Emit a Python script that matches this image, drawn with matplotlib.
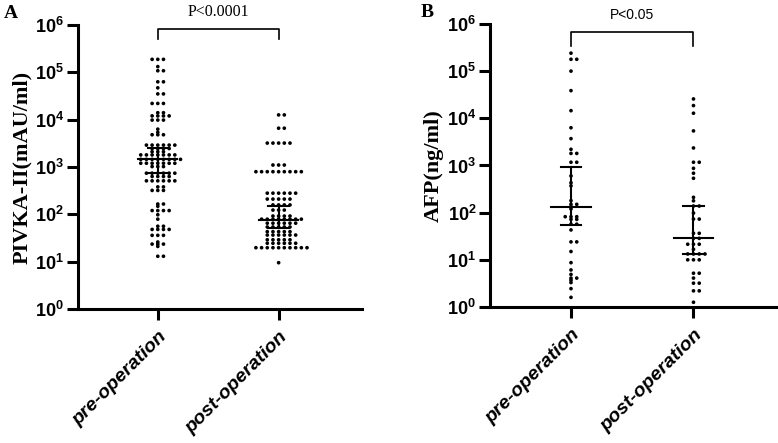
import matplotlib.pyplot as plt

plt.rcParams['mathtext.fontset'] = 'custom'
plt.rcParams['mathtext.rm'] = 'Liberation Sans:bold'
plt.rcParams['mathtext.bf'] = 'Liberation Sans:bold'

groups = ['pre-operation', 'post-operation']
ytick_vals = [1, 10, 100, 1000, 10000, 100000, 1000000]
ytick_labels = [r'$\mathrm{10^{0}}$', r'$\mathrm{10^{1}}$', r'$\mathrm{10^{2}}$', r'$\mathrm{10^{3}}$',
                r'$\mathrm{10^{4}}$', r'$\mathrm{10^{5}}$', r'$\mathrm{10^{6}}$']

# PIVKA-II (mAU/ml), values
pivka_pre = ([188000] * 3 + [132000] + [108000] * 2 + [63000] * 2 + [47000] + [35000] * 2
             + [22000] * 3 + [14000] * 2 + [12000] * 4 + [9800] * 3 + [6300] + [5400]
             + [4800] * 3 + [2900] * 6 + [2450] * 4 + [2100] * 3 + [1800] * 7 + [1450] * 8
             + [1200] * 7 + [1020] * 3 + [740] * 6 + [630] * 4 + [510] * 6 + [380] * 2
             + [320] * 3 + [165] * 2 + [148] + [120] * 4 + [98] + [79] + [56] * 2 + [48] * 4
             + [36] * 3 + [26] + [23.5] * 3 + [21] + [13] * 2)
pivka_post = ([12600] * 2 + [6600] * 2 + [3200] * 5 + [1100] * 3 + [795] * 9 + [280] * 6
              + [210] * 5 + [158] * 4 + [123] * 3 + [92] * 4 + [79] * 8 + [65] * 6 + [54] * 5
              + [43] * 5 + [36.5] * 6 + [29] * 5 + [24.5] * 6 + [19.7] * 10 + [9.5])
pivka_median = [1456, 76]
pivka_q1 = [736, 52]
pivka_q3 = [2484, 150]

# AFP (ng/ml)
afp_pre = ([240000] + [178000] * 2 + [100000] + [38500] + [14500] + [6300] + [3700] + [2200]
           + [1800] * 2 + [1170] * 2 + [600] + [430] + [370] + [180] + [150] * 2 + [133] + [120]
           + [82] * 3 + [72] * 2 + [57] * 2 + [43] + [24] * 2 + [15] + [8.7] + [6.1] + [4.9]
           + [4.1] * 2 + [3.7] + [3.3] + [2.45] + [1.6])
afp_post = ([25700] + [18600] + [12800] + [5400] + [2350] + [1170] * 2 + [870] + [685] + [535]
            + [211] + [178] + [138] * 2 + [98] + [73] * 2 + [36.5] * 2 + [28.5] * 2 + [21.4] * 3
            + [16.7] + [13.3] * 4 + [10] * 3 + [5.2] * 2 + [4.1] + [3.2] * 2 + [2.2] * 2 + [1.26])
afp_median = [134, 28.6]
afp_q1 = [56, 13.3]
afp_q3 = [930, 136]


def swarm_x(center, values, step):
    # same value -> spread sideways: 0, +1, -1, +2, -2 ...
    xs = []
    seen = {}
    for v in values:
        k = seen.get(v, 0)
        seen[v] = k + 1
        off = (k + 1) // 2 * (1 if k % 2 else -1)
        xs.append(center + off * step)
    return xs


def panel(ax, pre, post, med, q1, q3, ylabel, letter, ptext, pfont, brk, brk_drop, ptext_y, lx):
    ax.set_yscale('log')
    ax.set_ylim(1, 1e6)
    ax.set_xlim(-0.66, 1.69)
    for i, vals in enumerate([pre, post]):
        ax.scatter(swarm_x(i, vals, 0.047), vals, s=7, c='black', edgecolors='none',
                   zorder=3, clip_on=False)
        ax.plot([i - 0.16, i + 0.16], [med[i], med[i]], color='black', lw=1.5, zorder=4)
        ax.plot([i, i], [q1[i], q3[i]], color='black', lw=1.5, zorder=4)
        ax.plot([i - 0.085, i + 0.085], [q1[i], q1[i]], color='black', lw=1.5, zorder=4)
        ax.plot([i - 0.085, i + 0.085], [q3[i], q3[i]], color='black', lw=1.5, zorder=4)

    ax.plot([0, 0, 1, 1], [brk_drop, brk, brk, brk_drop], color='black', lw=1.2, clip_on=False)
    ax.text(0.5, ptext_y, ptext, ha='center', va='center', fontsize=pfont[1],
            family=pfont[0])

    ax.set_yticks(ytick_vals)
    ax.set_yticklabels(ytick_labels, fontsize=13)
    ax.minorticks_off()
    ax.set_xticks([0, 1])
    ax.set_xticklabels(groups, rotation=45, ha='right', rotation_mode='anchor',
                       fontsize=14, fontweight='bold', fontstyle='italic', family='Liberation Sans')
    ax.tick_params(axis='y', length=8, width=2.2, pad=2)
    ax.tick_params(axis='x', length=8, width=2.2, pad=6)
    for s in ['top', 'right']:
        ax.spines[s].set_visible(False)
    for s in ['left', 'bottom']:
        ax.spines[s].set_linewidth(2.2)
    ax.set_ylabel(ylabel, fontsize=16, fontweight='bold', family='Liberation Serif', labelpad=2)
    ax.text(lx, 1.04, letter, transform=ax.transAxes, fontsize=14, fontweight='bold',
            family='Liberation Serif', ha='left', va='center')


fig = plt.figure(figsize=(7.78, 4.43), dpi=100)
ax1 = fig.add_axes([0.1003, 0.3025, 0.365, 0.6411])
ax2 = fig.add_axes([0.630, 0.307, 0.370, 0.639])

panel(ax1, pivka_pre, pivka_post, pivka_median, pivka_q1, pivka_q3, 'PIVKA-II(mAU/ml)', 'A',
      'P<0.0001', ('Liberation Serif', 11.5), 10 ** 5.916, 10 ** 5.705, 10 ** 6.275, -0.26)
panel(ax2, afp_pre, afp_post, afp_median, afp_q1, afp_q3, 'AFP(ng/ml)', 'B',
      'P<0.05', ('Liberation Sans', 10), 10 ** 5.83, 10 ** 5.53, 10 ** 6.19, -0.24)

plt.savefig('out.png', dpi=100)
